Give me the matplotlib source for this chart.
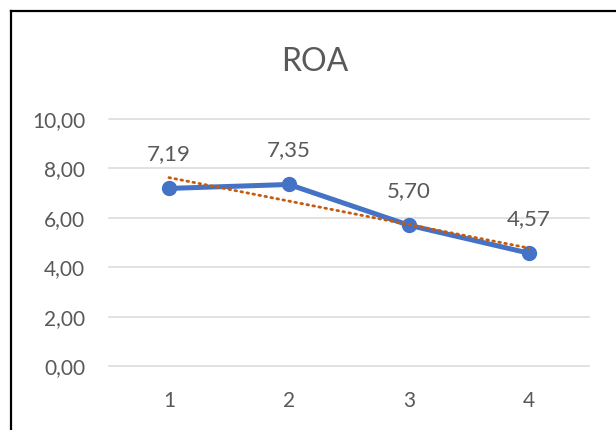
import matplotlib
matplotlib.use("Agg")
import matplotlib.pyplot as plt
from matplotlib.lines import Line2D
import numpy as np

periods = [1, 2, 3, 4]
roa = [7.19, 7.35, 5.70, 4.57]
yticks = [0, 2, 4, 6, 8, 10]
title = "ROA"

plt.rcParams["font.family"] = ["Lato", "DejaVu Sans"]
text_color = "#595959"


def fmt(v):
    return f"{v:.2f}".replace(".", ",")


fig = plt.figure(figsize=(6.16, 4.30), dpi=100)
fig.patch.set_facecolor("white")
ax = fig.add_axes([0.1769, 0.1488, 0.779, 0.5744])

for t in yticks:
    ax.axhline(t, color="#D9D9D9", lw=1.1, zorder=0, clip_on=False)

x = np.array(periods)
ax.plot(x, roa, color="#4472C4", lw=3.6, marker="o", ms=10,
        solid_capstyle="round", zorder=3)

# linear trendline, as Excel would add it
k, b = np.polyfit(x, roa, 1)
ax.plot(x, k * x + b, color="#C55A11", lw=2, ls=(0, (0.6, 1.6)),
        dash_capstyle="round", zorder=4)

for xi, v in zip(x, roa):
    ax.annotate(fmt(v), (xi, v), xytext=(0, 24.5), textcoords="offset points",
                ha="center", va="center", fontsize=16, color=text_color)

ax.set_xlim(0.5, 4.5)
ax.set_ylim(0, 10)
ax.set_xticks(periods)
ax.set_xticklabels([str(p) for p in periods])
ax.set_yticks(yticks)
ax.set_yticklabels([fmt(t) for t in yticks])
ax.tick_params(axis="both", length=0, labelsize=15, labelcolor=text_color)
ax.tick_params(axis="x", pad=18)
ax.tick_params(axis="y", pad=17)
for s in ax.spines.values():
    s.set_visible(False)
ax.set_facecolor("none")

fig.text(0.511, 0.856, title, ha="center", va="center", fontsize=23,
         color=text_color)

# chart frame (cropped screenshot: only top and left edges show)
fig.add_artist(Line2D([11 / 616, 11 / 616], [0, 1 - 11 / 430],
                      transform=fig.transFigure, color="black", lw=1.6))
fig.add_artist(Line2D([11 / 616, 1], [1 - 11 / 430, 1 - 11 / 430],
                      transform=fig.transFigure, color="black", lw=1.6))

fig.savefig("out.png", dpi=100)
